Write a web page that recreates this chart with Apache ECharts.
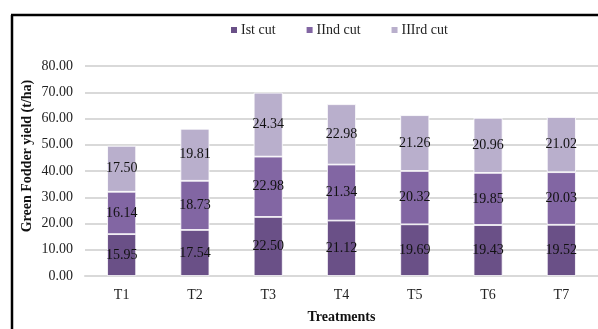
<!DOCTYPE html>
<html>
<head>
<meta charset="utf-8">
<script src="https://cdn.jsdelivr.net/npm/echarts@6/dist/echarts.min.js"></script>
<style>
  html, body { margin: 0; padding: 0; background: #ffffff; }
  #chart { width: 598px; height: 329px; }
</style>
</head>
<body>
<div id="chart"></div>
<script>
// Treatments on the x axis
const treatments = ['T1', 'T2', 'T3', 'T4', 'T5', 'T6', 'T7'];
// Green fodder yield (t/ha) per cut
const firstCut  = [15.95, 17.54, 22.50, 21.12, 19.69, 19.43, 19.52];
const secondCut = [16.14, 18.73, 22.98, 21.34, 20.32, 19.85, 20.03];
const thirdCut  = [17.50, 19.81, 24.34, 22.98, 21.26, 20.96, 21.02];
const seriesNames = ['Ist cut', 'IInd cut', 'IIIrd cut'];
const yTitle = 'Green Fodder yield (t/ha)';
const xTitle = 'Treatments';

const serif = '"Liberation Serif", "Times New Roman", serif';
const colors = ['#6a5087', '#8266a3', '#b9afcc'];

function cutSeries(name, data, color) {
  return {
    name: name,
    type: 'bar',
    stack: 'yield',
    data: data,
    barWidth: 29,
    itemStyle: { color: color, borderColor: '#ffffff', borderWidth: 0.8 },
    label: {
      show: true,
      position: 'inside',
      formatter: p => p.value.toFixed(2),
      color: '#111111',
      fontFamily: serif,
      fontSize: 14
    }
  };
}

const chart = echarts.init(document.getElementById('chart'), null, { renderer: 'canvas' });
chart.setOption({
  animation: false,
  backgroundColor: '#ffffff',
  textStyle: { fontFamily: serif },
  legend: {
    top: 18,
    left: 224,
    itemWidth: 8,
    itemHeight: 8,
    itemGap: 29,
    icon: 'rect',
    textStyle: { fontFamily: serif, fontSize: 14, color: '#222222', padding: [0, 0, 0, -2] },
    data: seriesNames
  },
  grid: { left: 85, right: 0, top: 66, bottom: 52 },
  xAxis: {
    type: 'category',
    data: treatments,
    axisTick: { show: false },
    axisLine: { lineStyle: { color: '#d9d9d9', width: 2 } },
    axisLabel: { fontFamily: serif, fontSize: 14, color: '#222222', margin: 12 },
    name: xTitle,
    nameLocation: 'middle',
    nameGap: 34,
    nameTextStyle: { fontFamily: serif, fontSize: 14, fontWeight: 'bold', color: '#111111' }
  },
  yAxis: {
    type: 'value',
    min: 0,
    max: 80,
    interval: 10,
    axisLine: { show: false },
    axisTick: { show: false },
    splitLine: { lineStyle: { color: '#d9d9d9', width: 2 } },
    axisLabel: {
      fontFamily: serif, fontSize: 14, color: '#222222', margin: 12,
      formatter: v => v.toFixed(2)
    }
  },
  series: [
    cutSeries(seriesNames[0], firstCut, colors[0]),
    cutSeries(seriesNames[1], secondCut, colors[1]),
    cutSeries(seriesNames[2], thirdCut, colors[2])
  ],
  graphic: [
    // chart frame (left and top edges)
    { type: 'line', shape: { x1: 12, y1: 15, x2: 12, y2: 340 }, style: { stroke: '#000000', lineWidth: 2.5 } },
    { type: 'line', shape: { x1: 11, y1: 15, x2: 600, y2: 15 }, style: { stroke: '#000000', lineWidth: 2.5 } },
    // vertical axis title
    {
      type: 'text',
      x: 27, y: 156,
      rotation: Math.PI / 2,
      style: {
        text: yTitle,
        fontFamily: serif, fontSize: 14, fontWeight: 'bold', fill: '#111111',
        align: 'center', verticalAlign: 'middle'
      }
    }
  ]
});
</script>
</body>
</html>
